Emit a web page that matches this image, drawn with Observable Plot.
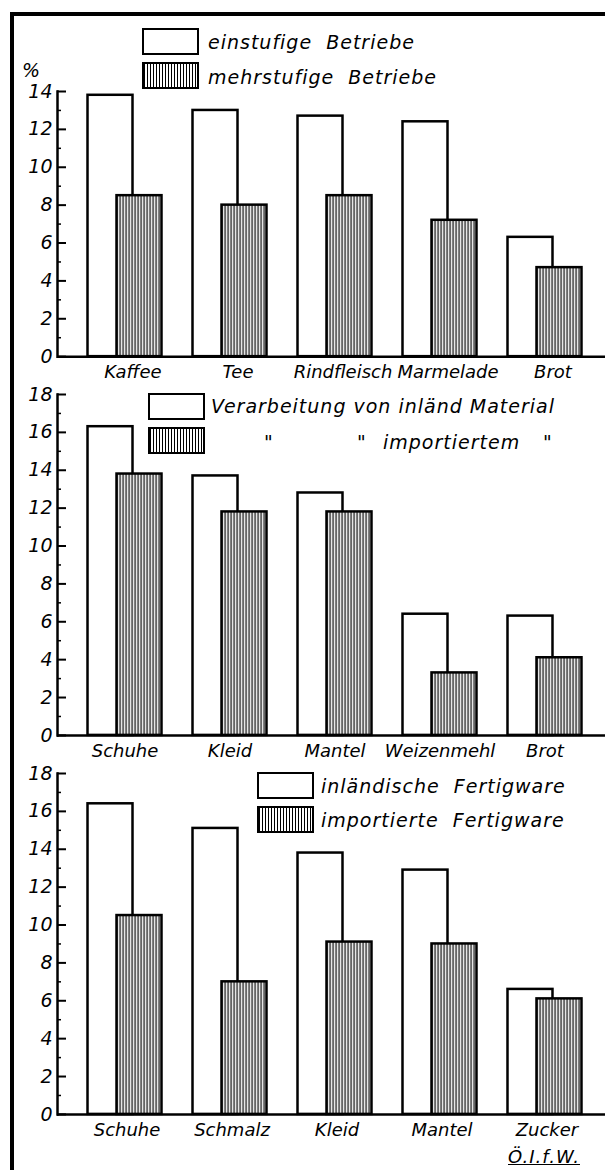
<!DOCTYPE html>
<html><head><meta charset="utf-8">
<script src="https://cdn.jsdelivr.net/npm/d3@7"></script>
<script src="https://cdn.jsdelivr.net/npm/@observablehq/plot@0.6"></script>
<style>
body{margin:0;background:#fff;width:605px;height:1170px;overflow:hidden;position:relative;font-family:"DejaVu Sans",sans-serif;font-style:italic;color:#000}
#frame{position:absolute;left:10px;top:12px;width:600px;height:1170px;border-top:4px solid #000;border-left:4px solid #000}
.panel{position:absolute;left:0}
.panel text{font-style:italic}
.sw{position:absolute;box-sizing:border-box;width:57px;height:27px;border:2.5px solid #000;background:#fff}
.sw.h{background:repeating-linear-gradient(90deg,#000 0 1.2px,#fff 1.2px 3px)}
.lt{position:absolute;font-size:19px;letter-spacing:1px;white-space:pre;line-height:20px}
</style></head><body>
<div id="frame"></div>
<svg width="0" height="0" style="position:absolute"><defs><pattern id="hatch" patternUnits="userSpaceOnUse" width="3" height="10"><rect width="3" height="10" fill="#fff"/><rect x="0" width="1.2" height="10" fill="#000"/></pattern></defs></svg>
<div id="charts"></div>
<script>
// Panel 1
const cats1 = ["Kaffee", "Tee", "Rindfleisch", "Marmelade", "Brot"];
const einstufig = [13.8, 13.0, 12.7, 12.4, 6.3];
const mehrstufig = [8.5, 8.0, 8.5, 7.2, 4.7];
// Panel 2
const cats2 = ["Schuhe", "Kleid", "Mantel", "Weizenmehl", "Brot"];
const inlandMaterial = [16.3, 13.7, 12.8, 6.4, 6.3];
const importMaterial = [13.8, 11.8, 11.8, 3.3, 4.1];
// Panel 3
const cats3 = ["Schuhe", "Schmalz", "Kleid", "Mantel", "Zucker"];
const inlandFertig = [16.4, 15.1, 13.8, 12.9, 6.6];
const importFertig = [10.5, 7.0, 9.1, 9.0, 6.1];
// Tick labels
const ticks14 = [0, 2, 4, 6, 8, 10, 12, 14];
const minor14 = [1, 3, 5, 7, 9, 11, 13];
const ticks18 = [0, 2, 4, 6, 8, 10, 12, 14, 16, 18];
const minor18 = [1, 3, 5, 7, 9, 11, 13, 15, 17];

const font = "'DejaVu Sans', sans-serif";

function panel(cats, a, b, yMax, major, minor, top, labelDx) {
  const rows = cats.map((c, i) => ({cat: c, a: a[i], b: b[i]}));
  const chart = Plot.plot({
    width: 605,
    height: yMax * 18.94 + 42,
    marginLeft: 57, marginRight: 0, marginTop: 12, marginBottom: 30,
    x: {type: "band", domain: cats, paddingInner: 0.5714, paddingOuter: 0.395, align: 0.542, label: null},
    y: {domain: [0, yMax], label: null},
    style: {background: "transparent", fontFamily: font, fontStyle: "italic", fontSize: "18px", overflow: "visible", color: "#000"},
    marks: [
      Plot.barY(rows, {x: "cat", y: "a", dx: -14.5, fill: "#fff", stroke: "#000", strokeWidth: 2.5}),
      Plot.barY(rows, {x: "cat", y: "b", dx: 14.5, fill: "url(#hatch)", stroke: "#000", strokeWidth: 2.5}),
      Plot.ruleY([0], {strokeWidth: 2.5}),
      Plot.frame({anchor: "left", strokeWidth: 2.5}),
      Plot.axisY(major, {tickSize: 0, tickPadding: 5, fontSize: 19, fontStyle: "italic", label: null}),
      Plot.axisY(major, {text: null, tickSize: 9, dx: 9, strokeWidth: 2, label: null}),
      Plot.axisY(minor, {text: null, tickSize: 4, dx: 4, strokeWidth: 1.5, label: null}),
      Plot.axisX({tickSize: 0, tickPadding: 9, fontSize: 18, fontStyle: "italic", dx: labelDx, label: null})
    ]
  });
  chart.classList.add("panel");
  chart.style.top = top + "px";
  document.getElementById("charts").appendChild(chart);
}

panel(cats1, einstufig, mehrstufig, 14, ticks14, minor14, 79, 8);
panel(cats2, inlandMaterial, importMaterial, 18, ticks18, minor18, 382, 0);
panel(cats3, inlandFertig, importFertig, 18, ticks18, minor18, 761, 2);

function sw(x, y, hatched) {
  const d = document.createElement("div");
  d.className = "sw" + (hatched ? " h" : "");
  d.style.left = x + "px"; d.style.top = y + "px";
  document.body.appendChild(d);
}
function lt(x, yc, text, size) {
  const s = document.createElement("div");
  s.className = "lt";
  s.textContent = text;
  if (size) s.style.fontSize = size + "px";
  s.style.left = x + "px"; s.style.top = (yc - 11) + "px";
  document.body.appendChild(s);
  return s;
}
// Legend panel 1
sw(142, 28, false); lt(208, 43, "einstufige  Betriebe");
sw(142, 62, true); lt(208, 78, "mehrstufige  Betriebe");
// Legend panel 2
sw(148, 393, false); lt(211, 407, "Verarbeitung von inländ Material");
sw(148, 427, true);
lt(264, 443, "\""); lt(357, 443, "\""); lt(383, 443, "importiertem"); lt(543, 443, "\"");
// Legend panel 3
sw(257, 772, false); lt(321, 787, "inländische  Fertigware");
sw(257, 806, true); lt(321, 821, "importierte  Fertigware");
// unit
const pct = lt(22, 72, "%", 19);
pct.style.lineHeight = "19px";
// source
const src = lt(508, 1158, "Ö.I.f.W.", 18);
src.style.textDecoration = "underline";
</script>
</body></html>
